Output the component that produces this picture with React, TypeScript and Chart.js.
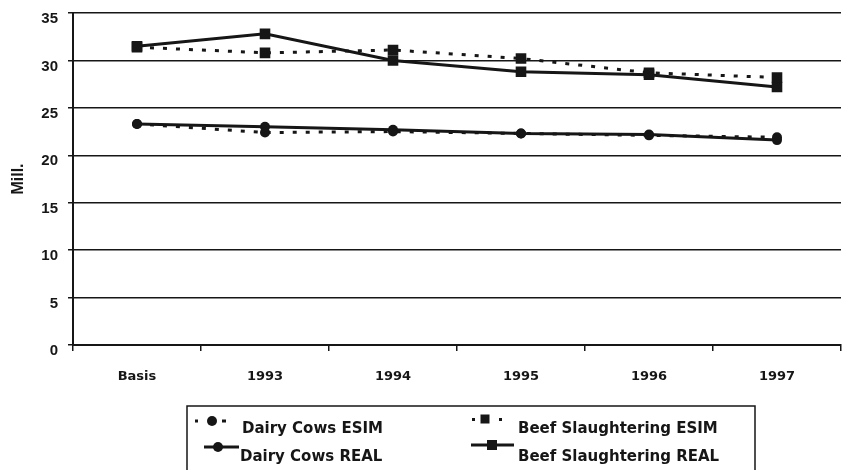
import React, { useEffect, useRef } from "react";
import { Chart, registerables } from "chart.js";

Chart.register(...registerables);

const categories = ["Basis", "1993", "1994", "1995", "1996", "1997"];
const dairyEsim = [23.3, 22.4, 22.5, 22.3, 22.1, 21.9];
const dairyReal = [23.3, 23.0, 22.7, 22.3, 22.2, 21.6];
const beefEsim = [31.4, 30.8, 31.1, 30.2, 28.7, 28.2];
const beefReal = [31.5, 32.8, 30.0, 28.8, 28.5, 27.2];
const yTicks = [0, 5, 10, 15, 20, 25, 30, 35];
const legendLabels = [
  "Dairy Cows ESIM",
  "Beef Slaughtering ESIM",
  "Dairy Cows REAL",
  "Beef Slaughtering REAL",
];

const INK = "#161616";
const DOT: number[] = [4, 9];

const legendPlugin = {
  id: "customLegend",
  afterDraw(chart: any) {
    const ctx = chart.ctx as CanvasRenderingContext2D;
    ctx.save();
    ctx.strokeStyle = INK;
    ctx.lineWidth = 1.5;
    ctx.beginPath();
    ctx.moveTo(187, 474);
    ctx.lineTo(187, 406);
    ctx.lineTo(755, 406);
    ctx.lineTo(755, 474);
    ctx.stroke();

    ctx.fillStyle = INK;
    ctx.strokeStyle = INK;
    // Dairy Cows ESIM symbol
    ctx.fillRect(195, 419.5, 3, 3);
    ctx.fillRect(222, 419.5, 4, 3);
    ctx.beginPath();
    ctx.arc(212, 421, 5, 0, Math.PI * 2);
    ctx.fill();
    // Dairy Cows REAL symbol
    ctx.lineWidth = 3;
    ctx.beginPath();
    ctx.moveTo(204, 447);
    ctx.lineTo(239, 447);
    ctx.stroke();
    ctx.beginPath();
    ctx.arc(218, 447, 5, 0, Math.PI * 2);
    ctx.fill();
    // Beef ESIM symbol
    ctx.fillRect(472, 418, 3, 3);
    ctx.fillRect(499, 418, 3, 3);
    ctx.fillRect(480.5, 414.5, 9, 9);
    // Beef REAL symbol
    ctx.beginPath();
    ctx.moveTo(471, 445);
    ctx.lineTo(514, 445);
    ctx.stroke();
    ctx.fillRect(487, 440, 10, 10);

    ctx.font = "bold 15px 'DejaVu Sans'";
    ctx.textBaseline = "alphabetic";
    ctx.textAlign = "left";
    const pos = [
      [242, 433],
      [518, 433],
      [240, 461],
      [518, 461],
    ];
    legendLabels.forEach((t, i) => {
      ctx.fillText(t, pos[i][0], pos[i][1]);
    });
    ctx.restore();
  },
};

export default function App() {
  const ref = useRef<HTMLCanvasElement>(null);

  useEffect(() => {
    if (!ref.current) return;
    const chart: any = new Chart(ref.current, {
      type: "line",
      data: {
        labels: categories,
        datasets: [
          {
            label: legendLabels[0],
            data: dairyEsim,
            borderColor: INK,
            backgroundColor: INK,
            borderWidth: 3,
            borderDash: DOT,
            pointStyle: "circle",
            pointRadius: 5,
            pointBorderWidth: 0,
            pointBackgroundColor: INK,
          },
          {
            label: legendLabels[2],
            data: dairyReal,
            borderColor: INK,
            backgroundColor: INK,
            borderWidth: 3,
            pointStyle: "circle",
            pointRadius: 5,
            pointBorderWidth: 0,
            pointBackgroundColor: INK,
          },
          {
            label: legendLabels[1],
            data: beefEsim,
            borderColor: INK,
            backgroundColor: INK,
            borderWidth: 3,
            borderDash: DOT,
            pointStyle: "rect",
            pointRadius: 7.5,
            pointBorderWidth: 0,
            pointBackgroundColor: INK,
          },
          {
            label: legendLabels[3],
            data: beefReal,
            borderColor: INK,
            backgroundColor: INK,
            borderWidth: 3,
            pointStyle: "rect",
            pointRadius: 7.5,
            pointBorderWidth: 0,
            pointBackgroundColor: INK,
          },
        ],
      },
      options: {
        responsive: false,
        animation: false,
        devicePixelRatio: 1,
        layout: { autoPadding: false, padding: { top: 13, right: 1, left: 0, bottom: 0 } },
        plugins: {
          legend: { display: false },
          tooltip: { enabled: false },
        },
        elements: { line: { tension: 0 } },
        scales: {
          x: {
            type: "category",
            offset: true,
            grid: {
              offset: true,
              drawOnChartArea: false,
              drawTicks: true,
              tickLength: 6,
              color: INK,
              lineWidth: 1.5,
            },
            border: { display: true, color: INK, width: 2 },
            ticks: {
              color: INK,
              font: { family: "'DejaVu Sans'", size: 13, weight: "bold" },
              padding: 18,
              maxRotation: 0,
            },
            afterFit: (s: any) => {
              s.height = 125;
              s.paddingLeft = 0;
              s.paddingRight = 0;
            },
          },
          y: {
            min: 0,
            max: 35,
            afterBuildTicks: (s: any) => {
              s.ticks = yTicks.map((v) => ({ value: v }));
            },
            grid: {
              color: INK,
              lineWidth: 1.5,
              drawTicks: true,
              tickLength: 5,
            },
            border: { display: true, color: INK, width: 2 },
            ticks: {
              color: INK,
              font: { family: "'Liberation Sans'", size: 15, weight: "bold" },
              padding: 10,
              labelOffset: 6,
            },
            title: {
              display: true,
              text: "Mill.",
              color: INK,
              font: { family: "'Liberation Sans'", size: 16, weight: "bold" },
              padding: { top: 9, bottom: 0 },
            },
            afterFit: (s: any) => {
              s.width = 73;
              s.paddingTop = 0;
              s.paddingBottom = 0;
            },
          },
        },
      },
      plugins: [legendPlugin],
    });
    return () => chart.destroy();
  }, []);

  return (
    <div style={{ position: "absolute", left: 0, top: 0, width: 842, height: 470, background: "#fff" }}>
      <canvas ref={ref} width={842} height={470} style={{ display: "block" }} />
    </div>
  );
}
